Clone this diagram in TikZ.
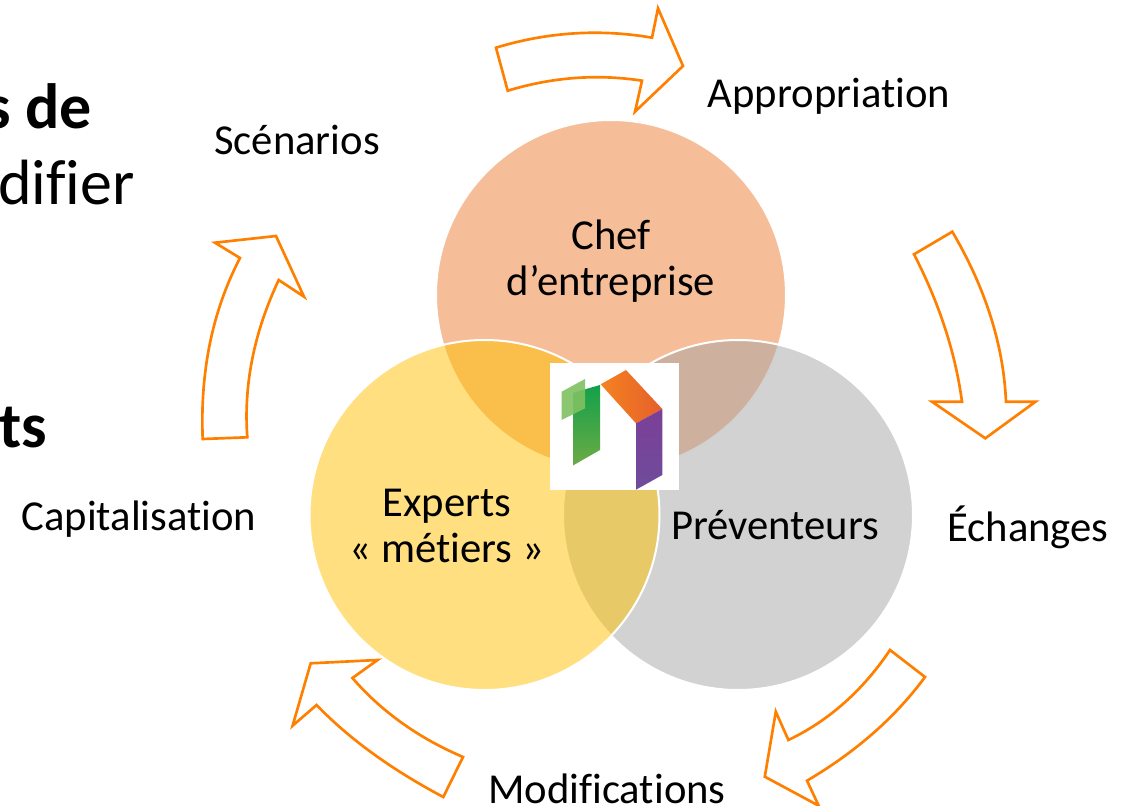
\documentclass[tikz,border=0pt]{standalone}
\usepackage{fontspec}
\setmainfont{Carlito}[Ligatures=NoCommon]
\definecolor{chefcol}{HTML}{ED7D31}
\definecolor{expertcol}{HTML}{FFC000}
\definecolor{prevcol}{HTML}{A5A5A5}
\definecolor{flechecol}{HTML}{FF8000}
\definecolor{vert1}{HTML}{12A04A}
\definecolor{vert2}{HTML}{6CAB45}
\definecolor{vert3}{HTML}{7FC262}
\definecolor{orange1}{HTML}{F58220}
\definecolor{orange2}{HTML}{E55F2B}
\definecolor{violet1}{HTML}{7B3F98}
\definecolor{violet2}{HTML}{6F4C9B}
\tikzset{
	venn/.style={draw=white,line width=1.5pt,fill opacity=0.5},
	fleche/.style={draw=flechecol,line width=2pt,line join=miter,fill=white},
	lab/.style={font=\fontsize{32}{35}\selectfont,align=center,inner sep=0pt},
	grand/.style={font=\fontsize{48}{56}\selectfont,inner sep=0pt,anchor=base east}
}
\begin{document}
\begin{tikzpicture}[x=0.75pt,y=-0.75pt]
	\useasboundingbox (0,0) rectangle (1122,806);
	%cercles
	\coordinate (chef) at (611,295);
	\coordinate (prev) at (738,515);
	\coordinate (expert) at (484.5,515);
	\filldraw[venn,fill=chefcol] (chef) circle (175);
	\filldraw[venn,fill=prevcol] (prev) circle (175);
	\filldraw[venn,fill=expertcol] (expert) circle (175);
	\node[lab] (chef-t) at (611,261) {Chef\\d’entreprise};
	\node[lab] (expert-t) at (447,526) {Experts\\« métiers »};
	\node[lab] (prev-t) at (775,525) {Préventeurs};
	%logo
	\fill[white] (550,363) rectangle (679,490);
	\shade[top color=vert1,bottom color=vert2] (573.3,392.7)--(600,385)--(600,450)--(573.3,465.3)--cycle;
	\fill[vert3,opacity=0.9] (561.7,391.7)--(585,379)--(585,408.3)--(561.7,420)--cycle;
	\shade[left color=orange1,right color=orange2] (600.7,384.3)--(626,370)--(662.3,409)--(636,423.3)--cycle;
	\shade[top color=violet1,bottom color=violet2] (636,423.3)--(662.3,409)--(662.3,475)--(636,489.7)--cycle;
	%fleches
	\draw[fleche] (496,47.7) .. controls (548,31.8) and (600.7,28.8) .. (652,37.7) -- (658,8.3) -- (683,66) -- (635,111.7) -- (642,80.7) .. controls (597.4,73.8) and (552.7,77.1) .. (507.7,90.7) -- cycle;
	\draw[fleche] (914,254.3) .. controls (939.3,303.4) and (955.3,352.6) .. (962,401.7) -- (932,401.7) -- (985.3,438.3) -- (1035.5,401.7) -- (1006,401.7) .. controls (1003.5,345) and (985.6,288.4) .. (952.3,231.7) -- cycle;
	\draw[fleche] (890,650) .. controls (862.5,691) and (828.1,721.1) .. (788.4,740) -- (775.8,711.7) -- (764.8,776.7) -- (818.7,805.7) -- (807,780.7) .. controls (856.2,751.7) and (895.5,717.1) .. (925,677) -- cycle;
	\draw[fleche] (463,757) .. controls (418.5,738) and (381.7,711.7) .. (352.4,678) -- (377.6,660) -- (310.7,663.3) -- (292.6,725.7) -- (316.6,705) .. controls (349,738.7) and (391.2,769.4) .. (443.3,797) -- cycle;
	\draw[fleche] (202.7,439) .. controls (200,371.3) and (212.4,311) .. (240,258) -- (215,242.7) -- (276,236) -- (304,296.7) -- (278.7,280) .. controls (254,332.5) and (243.5,384.9) .. (247.3,437.3) -- cycle;
	%textes
	\node[lab] (appro) at (829,96) {Appropriation};
	\node[lab] (scen) at (297,140) {Scénarios};
	\node[lab] (echanges) at (1028,527) {Échanges};
	\node[lab] (modif) at (607,789) {Modifications};
	\node[lab] (capi) at (139,519) {Capitalisation};
	\node[grand] (t1) at (92,129) {\bfseries s de};
	\node[grand] (t2) at (135,205) {difier};
	\node[grand] (t3) at (47.5,447) {\bfseries ts};
\end{tikzpicture}
\end{document}
